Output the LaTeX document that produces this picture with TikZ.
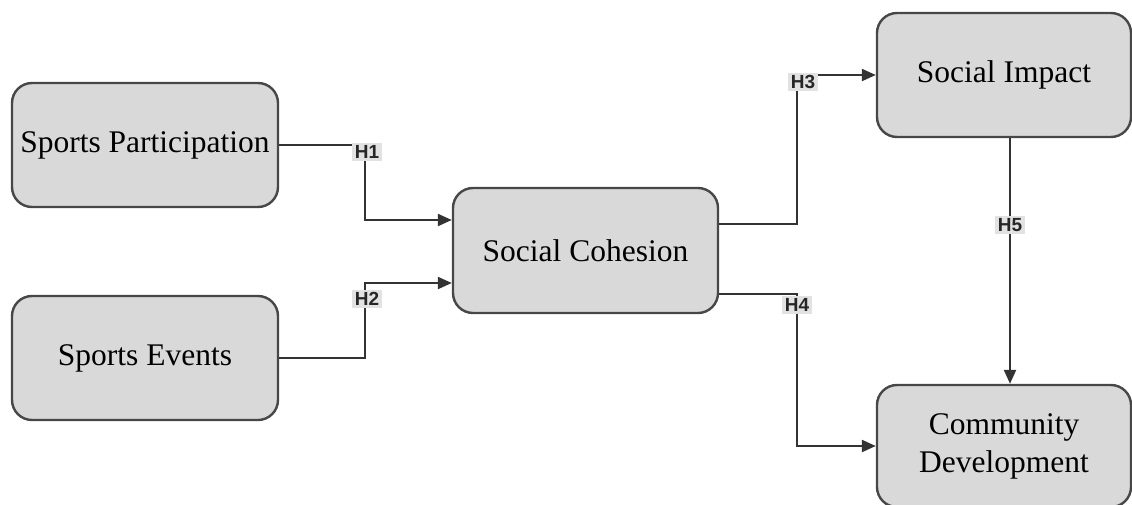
\documentclass[tikz,border=0pt]{standalone}
\usepackage{fontspec}
\setmainfont{Liberation Serif}
\setsansfont{Liberation Sans}
\usetikzlibrary{arrows.meta}
\definecolor{boxfill}{HTML}{D9D9D9}
\definecolor{boxline}{HTML}{474747}
\definecolor{conn}{HTML}{333333}
\definecolor{labfill}{HTML}{E2E2E2}
\tikzset{
  box/.style={draw=boxline, line width=2.4pt, fill=boxfill, rounded corners=20pt,
    align=center, inner sep=0pt, font=\fontsize{31.5}{38}\selectfont},
  link/.style={draw=conn, line width=2.2pt},
  arr/.style={link, -{Triangle[length=14pt,width=12pt]}},
  hlab/.style={fill=labfill, inner sep=2.5pt, text=black!85,
    font=\sffamily\bfseries\fontsize{19}{21}\selectfont}
}
\begin{document}
\begin{tikzpicture}[x=1pt,y=-1pt]
\useasboundingbox (0,0) rectangle (1132,504);
\node[box, minimum width=266pt, minimum height=124pt] (sp) at (145,145) {Sports Participation};
\node[box, minimum width=266pt, minimum height=124pt] (se) at (145,358) {Sports Events};
\node[box, minimum width=265pt, minimum height=125pt] (sc) at (585.5,250.5) {Social Cohesion};
\node[box, minimum width=254pt, minimum height=124pt] (si) at (1004,75) {Social Impact};
\node[box, minimum width=254pt, minimum height=122pt] (cd) at (1004,446) {Community\\Development};
\coordinate (b1) at (365,220);
\coordinate (b2) at (365,283);
\coordinate (b3) at (797,224);
\coordinate (b4) at (797,294);
\coordinate (b5) at (1010,0);
\draw[arr] (sp.east) -| (b1) -- (b1 -| sc.west);
\draw[arr] (se.east) -| (b2) -- (b2 -| sc.west);
\draw[arr] (b3 -| sc.east) -- (b3) |- (si.west);
\draw[arr] (b4 -| sc.east) -- (b4) |- (cd.west);
\draw[arr] (b5 |- si.south) -- (b5 |- cd.north);
\node[hlab] (h1) at (367,152) {H1};
\node[hlab] (h2) at (367,299) {H2};
\node[hlab] (h3) at (803,82) {H3};
\node[hlab] (h4) at (797,305) {H4};
\node[hlab] (h5) at (1010,225) {H5};
\end{tikzpicture}
\end{document}
